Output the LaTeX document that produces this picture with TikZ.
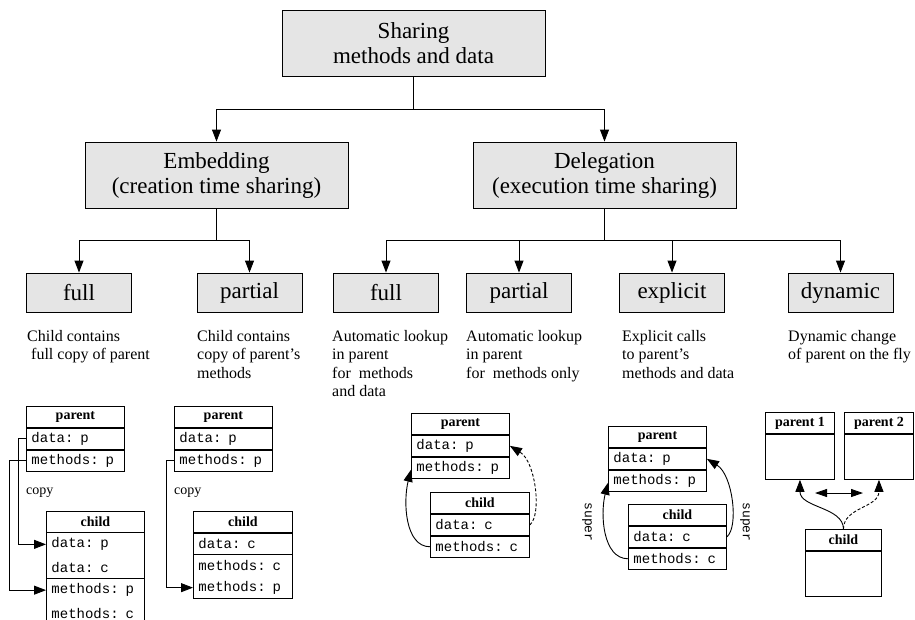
\documentclass[tikz,border=0pt]{standalone}
\usepackage{fontspec}
\setmainfont{Liberation Serif}
\setmonofont{Liberation Mono}
\usetikzlibrary{arrows.meta,fit}
\definecolor{boxgray}{RGB}{229,229,229}
\tikzset{
  bigbox/.style={draw, fill=boxgray, minimum width=263pt, minimum height=66pt, align=center,
    font=\fontsize{23}{25}\selectfont, inner sep=0pt, line width=0.9pt},
  catbox/.style={draw, fill=boxgray, minimum width=105pt, minimum height=39pt,
    font=\fontsize{23}{25}\selectfont, inner sep=0pt, line width=0.9pt},
  conn/.style={line width=0.9pt},
  arr/.style={conn, -{Triangle[length=12pt,width=9pt]}},
  dashline/.style={dash pattern=on 3pt off 2pt},
  desc/.style={anchor=north west, align=left, font=\fontsize{16}{18.5}\selectfont, inner sep=0pt,
    execute at begin node=\strut},
  hdr/.style={draw, line width=0.9pt, anchor=north west, minimum width=#1, minimum height=21pt,
    inner sep=0pt, font=\fontsize{14}{16}\selectfont\bfseries},
  cell/.style={anchor=north west, minimum height=21pt, inner xsep=5pt, inner ysep=0pt,
    text width=#1, align=left, font=\fontsize{14}{16}\selectfont\ttfamily, line width=0.9pt},
  frame/.style={draw, line width=0.9pt, inner sep=0pt},
  body/.style={draw, line width=0.9pt, anchor=north west, minimum width=#1, minimum height=45pt, inner sep=0pt},
  lbl/.style={font=\fontsize{14}{16}\selectfont, inner sep=0pt, anchor=west},
  suplbl/.style={font=\fontsize{13}{15}\selectfont\ttfamily, inner sep=0pt, rotate=-90},
}
\begin{document}
\begin{tikzpicture}[x=1pt,y=-1pt]
\path[use as bounding box] (0,0) rectangle (915,619);
\clip (0,0) rectangle (915,619);

% ---- hierarchy
\node[bigbox] (top) at (413.5,43) {Sharing\\methods and data};
\node[bigbox] (emb) at (216.5,175) {Embedding\\(creation time sharing)};
\node[bigbox] (del) at (604.5,175) {Delegation\\(execution time sharing)};

\node[catbox] (f1) at (79,292.5) {full};
\node[catbox] (p1) at (249.5,292.5) {partial};
\node[catbox] (f2) at (386,292.5) {full};
\node[catbox] (p2) at (519,292.5) {partial};
\node[catbox] (ex) at (672,292.5) {explicit};
\node[catbox] (dy) at (840.5,292.5) {dynamic};

\coordinate (j1) at (413.5,109);
\coordinate (j2) at (216.5,240);
\coordinate (j3) at (604.5,240);
\draw[conn] (top.south) -- (j1);
\draw[arr] (j1) -| (emb.north);
\draw[arr] (j1) -| (del.north);
\draw[conn] (emb.south) -- (j2);
\draw[arr] (j2) -| (f1.north);
\draw[arr] (j2) -| (p1.north);
\draw[conn] (del.south) -- (j3);
\draw[arr] (j3) -| (f2.north);
\draw[arr] (j3) -| (p2.north);
\draw[arr] (j3) -| (ex.north);
\draw[arr] (j3) -| (dy.north);

% ---- descriptions
\node[desc] (d1) at (27,330) {Child contains\\\hspace{4pt}full copy of parent};
\node[desc] (d2) at (197,330) {Child contains\\copy of parent's\\methods};
\node[desc] (d3) at (332,330) {Automatic lookup\\in parent\\for~ methods\\and data};
\node[desc] (d4) at (466,330) {Automatic lookup\\in parent\\for~ methods only};
\node[desc] (d5) at (622,330) {Explicit calls\\to parent's\\methods and data};
\node[desc] (d6) at (788,330) {Dynamic change\\of parent on the fly};

% ---- embedding full
\node[hdr=98pt] (ap1h) at (26,406) {parent};
\node[cell=88pt, draw] (ap1d) at (ap1h.south west) {data: p};
\node[cell=88pt, draw] (ap1m) at (ap1d.south west) {methods: p};
\node[lbl] (copy1) at (26,493) {copy};
\node[hdr=98pt] (ac1h) at (46,511) {child};
\node[cell=88pt, minimum height=22pt] (ac1dp) at (ac1h.south west) {data: p};
\node[cell=88pt, minimum height=22pt] (ac1dc) at (ac1dp.south west) {data: c};
\node[frame, fit=(ac1dp)(ac1dc)] (ac1df) {};
\node[cell=88pt, minimum height=22pt] (ac1mp) at (ac1dc.south west) {methods: p};
\node[cell=88pt, minimum height=22pt] (ac1mc) at (ac1mp.south west) {methods: c};
\node[frame, fit=(ac1mp)(ac1mc)] (ac1mf) {};
\draw[arr] (ap1d.west) -- ++(-8,0) |- (ac1dp.west);
\draw[arr] (ap1m.west) -- ++(-17,0) |- (ac1mp.west);

% ---- embedding partial
\node[hdr=98pt] (ap2h) at (174,406) {parent};
\node[cell=88pt, draw] (ap2d) at (ap2h.south west) {data: p};
\node[cell=88pt, draw] (ap2m) at (ap2d.south west) {methods: p};
\node[lbl] (copy2) at (174,493) {copy};
\node[hdr=99pt] (ac2h) at (193,511) {child};
\node[cell=89pt, draw] (ac2d) at (ac2h.south west) {data: c};
\node[cell=89pt] (ac2mc) at (ac2d.south west) {methods: c};
\node[cell=89pt] (ac2mp) at (ac2mc.south west) {methods: p};
\node[frame, fit=(ac2mc)(ac2mp)] (ac2mf) {};
\draw[arr] (ap2m.west) -- ++(-8,0) |- (ac2mp.west);

% ---- delegation full
\node[hdr=98pt] (dph) at (411,413) {parent};
\node[cell=88pt, draw] (dpd) at (dph.south west) {data: p};
\node[cell=88pt, draw] (dpm) at (dpd.south west) {methods: p};
\node[hdr=99pt] (dch) at (430,492) {child};
\node[cell=89pt, draw] (dcd) at (dch.south west) {data: c};
\node[cell=89pt, draw] (dcm) at (dcd.south west) {methods: c};
\draw[arr] (dcm.west) .. controls +(-25,0) and +(-8,32) .. ([yshift=-2pt]dpm.west);
\draw[arr, dashline] (dcd.east) .. controls +(12,-10) and +(26,16) .. (dpd.east);

% ---- delegation explicit
\node[hdr=98pt] (eph) at (608,426) {parent};
\node[cell=88pt, draw] (epd) at (eph.south west) {data: p};
\node[cell=88pt, draw] (epm) at (epd.south west) {methods: p};
\node[hdr=98pt] (ech) at (628,504) {child};
\node[cell=88pt, draw] (ecd) at (ech.south west) {data: c};
\node[cell=88pt, draw] (ecm) at (ecd.south west) {methods: c};
\draw[arr] (ecm.west) .. controls +(-25,0) and +(-8,32) .. ([yshift=-2pt]epm.west);
\draw[arr] (ecd.east) .. controls +(12,-10) and +(26,16) .. (epd.east);
\node[suplbl] (sup1) at (587,522) {super};
\node[suplbl] (sup2) at (745,522) {super};

% ---- delegation dynamic
\node[hdr=69pt] (q1h) at (765,412) {parent 1};
\node[body=69pt] (q1b) at (q1h.south west) {};
\node[hdr=69pt] (q2h) at (844,412) {parent 2};
\node[body=69pt] (q2b) at (q2h.south west) {};
\node[hdr=76pt] (qch) at (805,529) {child};
\node[body=76pt] (qcb) at (qch.south west) {};
\coordinate (da1) at (815,493);
\coordinate (da2) at (863,493);
\draw[conn, {Triangle[length=12pt,width=8pt]}-{Triangle[length=12pt,width=8pt]}] (da1) -- (da2);
\draw[arr] (qch.north) .. controls +(0,-22) and +(0,28) .. (q1b.south);
\draw[arr, dashline] (qch.north) .. controls +(0,-22) and +(0,28) .. (q2b.south);
\end{tikzpicture}
\end{document}
